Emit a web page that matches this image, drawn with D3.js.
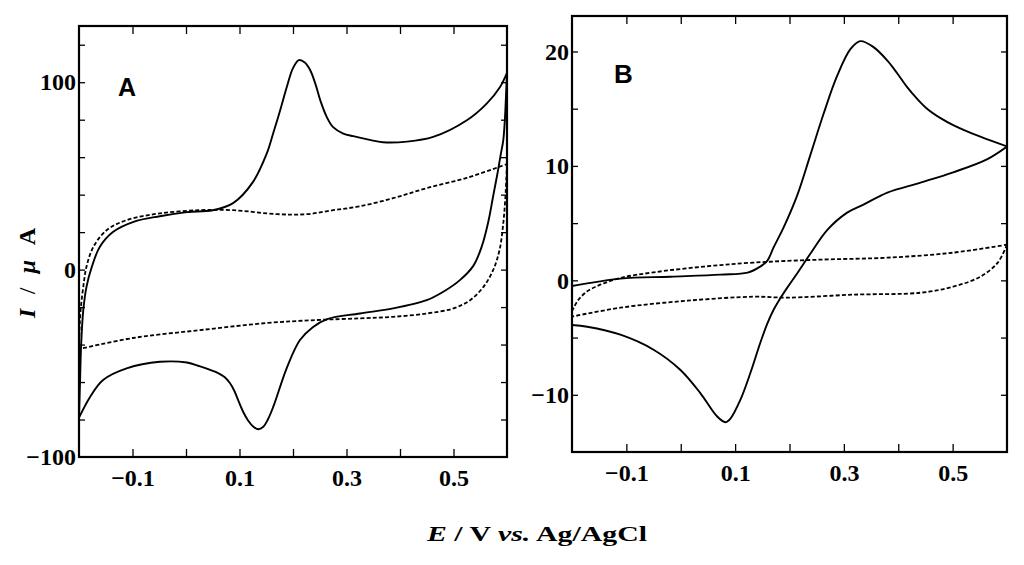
<!DOCTYPE html>
<html>
<head>
<meta charset="utf-8">
<script src="https://cdn.jsdelivr.net/npm/d3@7"></script>
<style>
  body { margin: 0; background: #fff; }
  svg { display: block; }
</style>
</head>
<body>
<svg id="chart" width="1024" height="565"></svg>
<script>
// Panel A (current in uA), each branch as [E, I]
const aSolidFwd = [[-0.2, -79], [-0.198, -59], [-0.196, -40], [-0.192, -21.6], [-0.186, -9.2], [-0.176, 1.5],
  [-0.161, 12.2], [-0.136, 20.2], [-0.098, 25.5], [-0.049, 28.5], [0.002, 30.7], [0.05, 31.7], [0.088, 35.5],
  [0.125, 46.7], [0.151, 62], [0.163, 72.8], [0.176, 85], [0.188, 97], [0.2, 107.5], [0.211, 111.8],
  [0.222, 110.5], [0.232, 106.5], [0.242, 99], [0.252, 89.5], [0.263, 81.5], [0.275, 76], [0.294, 72.6],
  [0.313, 71.2], [0.368, 68], [0.413, 68.3], [0.462, 70.8], [0.525, 79.7], [0.562, 88.6], [0.587, 97.5],
  [0.6, 105]];
const aSolidRev = [[0.6, 105], [0.598, 92], [0.596, 80], [0.593, 69], [0.588, 61], [0.582, 51],
  [0.574, 39], [0.565, 25.5], [0.553, 12.5], [0.537, 2], [0.512, -5.6], [0.481, -11.8], [0.45, -16.3],
  [0.387, -20.7], [0.325, -23.4], [0.264, -26.4], [0.237, -30.7], [0.213, -37.6], [0.189, -52], [0.163, -73.3],
  [0.153, -80], [0.144, -84], [0.135, -85.2], [0.126, -83.8], [0.116, -80.5], [0.107, -76], [0.098, -70],
  [0.09, -64.5], [0.082, -60.5], [0.072, -57.3], [0.06, -55.2], [0.05, -54], [0.025, -51.5], [0.002, -49.6],
  [-0.049, -49.2], [-0.111, -52.7], [-0.155, -58.9], [-0.179, -67.8], [-0.2, -79]];
const aDashFwd = [[-0.2, -42.4], [-0.199, -32], [-0.197, -21.6], [-0.192, -9.2], [-0.186, 1.5],
  [-0.173, 12.2], [-0.148, 21.1], [-0.111, 26.4], [-0.049, 30], [0.026, 31.7], [0.088, 31.7], [0.17, 29.6],
  [0.226, 29.6], [0.275, 31.7], [0.325, 33.8], [0.387, 38.1], [0.45, 43.5], [0.525, 49], [0.6, 56.3]];
const aDashRev = [[0.6, 56.3], [0.597, 38.8], [0.593, 24.6], [0.586, 10.4], [0.574, -0.3], [0.556, -9.2],
  [0.531, -16.3], [0.5, -20.7], [0.45, -23.4], [0.387, -25.2], [0.325, -26], [0.245, -26.9], [0.151, -28.5],
  [0.026, -32.3], [-0.099, -36.5], [-0.2, -42.4]];

// Panel B (current in uA)
const bSolidFwd = [[-0.2, -0.5], [-0.111, 0.15], [-0.019, 0.32], [0.073, 0.5], [0.123, 0.67], [0.146, 1.2],
  [0.159, 1.7], [0.171, 2.9], [0.189, 4.6], [0.214, 7.4], [0.238, 10.9], [0.263, 14.6], [0.287, 17.8],
  [0.312, 20.2], [0.33, 20.9], [0.354, 20.4], [0.38, 19.2], [0.398, 18.1], [0.416, 16.9], [0.434, 15.9],
  [0.453, 15], [0.477, 14.2], [0.502, 13.55], [0.551, 12.55], [0.6, 11.7]];
const bSolidRev = [[0.6, 11.7], [0.564, 10.6], [0.501, 9.44], [0.441, 8.54], [0.38, 7.67], [0.336, 6.62],
  [0.306, 5.92], [0.27, 4.43], [0.238, 2.3], [0.214, 0.6], [0.195, -0.7], [0.18, -1.8], [0.171, -2.55],
  [0.159, -3.8], [0.146, -5.5], [0.128, -8.1], [0.11, -10.4], [0.091, -12.1], [0.082, -12.4],
  [0.067, -11.9], [0.036, -9.85], [-0.001, -7.81], [-0.05, -6.06], [-0.111, -4.75], [-0.172, -4.05],
  [-0.2, -3.9]];
const bDashFwd = [[-0.2, -2.7], [-0.197, -2.4], [-0.188, -1.69], [-0.172, -0.96], [-0.148, -0.38],
  [-0.111, 0.21], [-0.05, 0.7], [0.042, 1.2], [0.133, 1.55], [0.257, 1.81], [0.38, 1.98], [0.501, 2.42],
  [0.6, 3.12]];
const bDashRev = [[0.6, 3.12], [0.583, 1.55], [0.551, 0.32], [0.501, -0.55], [0.441, -1.08], [0.318, -1.25],
  [0.196, -1.51], [0.134, -1.43], [0.012, -1.78], [-0.111, -2.39], [-0.2, -3.17]];

// ticks
const xTicks = [-0.1, 0, 0.1, 0.2, 0.3, 0.4, 0.5];
const xTickLabels = [-0.1, 0.1, 0.3, 0.5];
const yTicksA = [-80, -60, -40, -20, 0, 20, 40, 60, 80, 100, 120];
const yTickLabelsA = [-100, 0, 100];
const yTicksB = [-10, -5, 0, 5, 10, 15, 20];
const yTickLabelsB = [-10, 0, 10, 20];

const svg = d3.select("#chart");

function drawPanel(opts) {
    const { id, x0, x1, y0, y1, yDomain, yTicks, yLabels, yFmt, curves, letter, letterPos, letterSize } = opts;

    const x = d3.scaleLinear().domain([-0.2, 0.6]).range([x0, x1]);
    const y = d3.scaleLinear().domain(yDomain).range([y1, y0]);

    svg.append("clipPath").attr("id", "clip-" + id)
        .append("rect")
        .attr("x", x0).attr("y", y0)
        .attr("width", x1 - x0).attr("height", y1 - y0);

    const line = d3.line()
        .x(d => x(d[0]))
        .y(d => y(d[1]))
        .curve(d3.curveCatmullRom.alpha(0.5));

    const g = svg.append("g").attr("clip-path", `url(#clip-${id})`);
    curves.forEach(c => {
        g.append("path")
            .attr("d", line(c.data))
            .attr("fill", "none")
            .attr("stroke", "#000")
            .attr("stroke-width", c.dashed ? 1.8 : 1.9)
            .attr("stroke-dasharray", c.dashed ? "4,2.2" : null);
    });

    const fmtX = d3.format(".1f");
    const tickFont = "'Liberation Serif', 'Times New Roman', serif";

    // bottom axis with labels
    const bottom = svg.append("g")
        .attr("transform", `translate(0,${y1})`)
        .call(d3.axisBottom(x).tickValues(xTicks).tickSizeInner(-8).tickSizeOuter(0).tickPadding(12)
            .tickFormat(d => xTickLabels.some(v => Math.abs(v - d) < 1e-9) ? fmtX(d) : ""));
    // top axis: ticks only
    const top = svg.append("g")
        .attr("transform", `translate(0,${y0})`)
        .call(d3.axisTop(x).tickValues(xTicks).tickSizeInner(-8).tickSizeOuter(0).tickFormat(""));
    // left axis, labels added by hand so -100 can sit on the frame corner
    const left = svg.append("g")
        .attr("transform", `translate(${x0},0)`)
        .call(d3.axisLeft(y).tickValues(yTicks).tickSizeInner(-6).tickSizeOuter(0).tickFormat(""));
    left.selectAll(".lbl")
        .data(yLabels)
        .enter()
        .append("text")
        .attr("class", "lbl")
        .attr("x", -3)
        .attr("y", d => y(d))
        .attr("dy", "0.34em")
        .attr("text-anchor", "end")
        .text(d => yFmt(d));
    // right axis: ticks only
    const right = svg.append("g")
        .attr("transform", `translate(${x1},0)`)
        .call(d3.axisRight(y).tickValues(yTicks).tickSizeInner(-6).tickSizeOuter(0).tickFormat(""));

    [bottom, top, left, right].forEach(a => {
        a.select(".domain").remove();
        a.selectAll("line").attr("stroke", "#000").attr("stroke-width", 1.3);
        a.selectAll("text")
            .attr("fill", "#000")
            .attr("font-family", tickFont)
            .attr("font-weight", "bold")
            .attr("font-size", 24);
    });

    // frame
    svg.append("rect")
        .attr("x", x0).attr("y", y0)
        .attr("width", x1 - x0).attr("height", y1 - y0)
        .attr("fill", "none")
        .attr("stroke", "#000")
        .attr("stroke-width", 2.2);

    svg.append("text")
        .attr("x", letterPos[0]).attr("y", letterPos[1])
        .attr("font-family", "'Liberation Sans', Arial, sans-serif")
        .attr("font-weight", "bold")
        .attr("font-size", letterSize)
        .text(letter);
}

drawPanel({
    id: "a", x0: 79, x1: 507, y0: 26, y1: 457,
    yDomain: [-100, 130], yTicks: yTicksA, yLabels: yTickLabelsA, yFmt: d3.format("d"),
    curves: [
        { data: aDashFwd, dashed: true }, { data: aDashRev, dashed: true },
        { data: aSolidFwd, dashed: false }, { data: aSolidRev, dashed: false }
    ],
    letter: "A", letterPos: [118, 96], letterSize: 25
});

drawPanel({
    id: "b", x0: 572, x1: 1007, y0: 16, y1: 452,
    yDomain: [-15, 23.1], yTicks: yTicksB, yLabels: yTickLabelsB, yFmt: d3.format("d"),
    curves: [
        { data: bDashFwd, dashed: true }, { data: bDashRev, dashed: true },
        { data: bSolidFwd, dashed: false }, { data: bSolidRev, dashed: false }
    ],
    letter: "B", letterPos: [614, 83], letterSize: 26
});

// axis titles
const xTitle = svg.append("text")
    .attr("x", 427).attr("y", 541)
    .attr("font-family", "'Liberation Serif', 'Times New Roman', serif")
    .attr("font-weight", "bold")
    .attr("font-size", 22)
    .attr("textLength", 220)
    .attr("lengthAdjust", "spacingAndGlyphs");
xTitle.append("tspan").attr("font-style", "italic").text("E");
xTitle.append("tspan").text(" / V ");
xTitle.append("tspan").attr("font-style", "italic").text("vs.");
xTitle.append("tspan").text(" Ag/AgCl");

const yTitle = svg.append("text")
    .attr("transform", "translate(35,318) rotate(-90)")
    .attr("font-family", "'Liberation Serif', 'Times New Roman', serif")
    .attr("font-weight", "bold")
    .attr("font-size", 24)
    .attr("textLength", 90)
    .attr("lengthAdjust", "spacing");
yTitle.append("tspan").attr("font-style", "italic").text("I");
yTitle.append("tspan").attr("font-weight", "normal").text(" / ");
yTitle.append("tspan").attr("font-style", "italic").text("\u03bc");
yTitle.append("tspan").text(" A");
</script>
</body>
</html>
